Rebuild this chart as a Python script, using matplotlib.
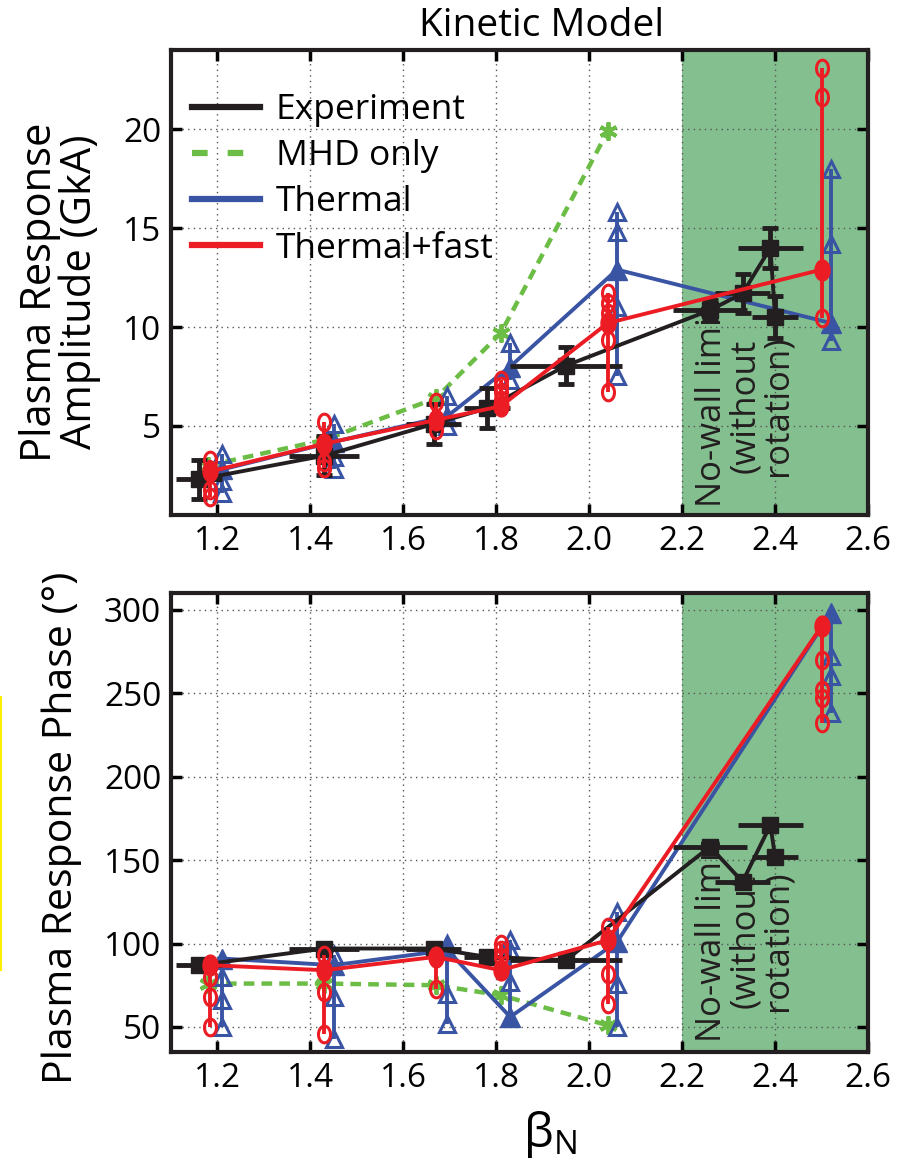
import matplotlib
matplotlib.use("Agg")
import matplotlib.pyplot as plt
import numpy as np
from matplotlib.path import Path
from matplotlib.lines import Line2D

plt.rcParams['font.family'] = ['Open Sans', 'DejaVu Sans']

# ---------------- data ----------------
beta_exp = [1.16, 1.43, 1.665, 1.78, 1.95, 2.26, 2.33, 2.39, 2.40]
amp_exp = [2.3, 3.5, 5.1, 5.9, 8.05, 10.85, 11.7, 14.0, 10.5]
amp_exp_yerr = [1.0, 1.0, 1.0, 1.0, 0.95, 0.5, 1.0, 1.0, 1.05]
phase_exp = [87, 97, 97, 92, 90, 158, 137, 171, 152]
phase_exp_yerr = [2, 2, 2, 2, 2, 2, 2, 2, 2]
exp_xerr = [0.05, 0.075, 0.06, 0.05, 0.12, 0.08, 0.06, 0.07, 0.05]

beta_mhd = [1.18, 1.43, 1.67, 1.81, 2.04]
amp_mhd = [3.0, 4.3, 6.4, 9.7, 19.9]
phase_mhd = [76, 76, 75, 69, 51]

beta_th = [1.21, 1.45, 1.695, 1.83, 2.06, 2.52]
amp_th = [2.8, 4.2, 5.5, 8.0, 12.9, 10.2]
amp_th_range = [[3.6, 2.2, 1.6], [5.1, 3.45, 2.8], [6.5, 5.0], [9.2, 7.3],
                [15.8, 14.8, 11.0, 7.5], [18.0, 14.2, 9.3]]
phase_th = [91, 87, 96, 56, 101, 298]
phase_th_range = [[80, 66, 50], [93, 68, 43], [100, 70, 52], [102, 96, 77],
                  [119, 76, 50], [272, 260, 238]]

beta_tf = [1.185, 1.43, 1.67, 1.81, 2.04, 2.50]
amp_tf = [2.7, 4.1, 5.3, 6.0, 10.2, 12.9]
amp_tf_range = [[3.3, 1.75, 1.4], [5.2, 3.2, 2.9], [6.2, 4.8], [7.3, 7.0, 6.7, 6.3],
                [11.7, 11.2, 10.7, 9.35, 6.7], [23.1, 21.6, 10.45]]
phase_tf = [87, 84, 92, 84, 102, 290]
phase_tf_range = [[80, 68, 50], [93, 71, 46], [73], [100, 96, 92],
                  [110, 82, 64], [270, 252, 247, 232]]

labels = ['Experiment', 'MHD only', 'Thermal', 'Thermal+fast']
xticks = [1.2, 1.4, 1.6, 1.8, 2.0, 2.2, 2.4, 2.6]
amp_yticks = [5, 10, 15, 20]
phase_yticks = [50, 100, 150, 200, 250, 300]

# ---------------- style ----------------
c_exp = '#231f20'
c_mhd = '#6cbd45'
c_th = '#3a54a4'
c_tf = '#ec1c24'
c_zone = '#84c08f'

t = np.linspace(0, 2 * np.pi, 40)
ellipse = Path(np.column_stack([0.72 * np.cos(t), np.sin(t)]), closed=True)

fig = plt.figure(figsize=(9, 11.66), dpi=100)
ax1 = fig.add_axes([171 / 900, 1 - 515 / 1166, 697 / 900, 465 / 1166])
ax2 = fig.add_axes([171 / 900, 1 - 1052 / 1166, 697 / 900, 459 / 1166])


def draw(ax, yexp, yexp_err, ymhd, yth, yth_r, ytf, ytf_r, yticks, ylim, txt_y):
    ax.axvspan(2.2, 2.6, color=c_zone, zorder=0, lw=0)
    ax.grid(True, linestyle=(0, (1, 3)), color='#555555', lw=1.0, zorder=1)
    ax.text(2.335, txt_y, 'No-wall limit\n(without\nrotation)', rotation=90,
            ha='center', va='bottom', fontsize=25, color='#231f20',
            linespacing=0.95, zorder=2)
    # experiment
    ax.errorbar(beta_exp, yexp, xerr=exp_xerr, color=c_exp, lw=2.8,
                elinewidth=3.5, capsize=0, marker='s', ms=12, zorder=5)
    ax.errorbar(beta_exp, yexp, yerr=yexp_err, color=c_exp, ls='none',
                elinewidth=3.5, capsize=6, capthick=3.5, zorder=5)
    # MHD
    ax.plot(beta_mhd, ymhd, color=c_mhd, ls=(0, (2.4, 1.6)), lw=3.2,
            marker=(6, 2, 0), ms=13, mew=2.8, zorder=4)
    # thermal
    for b, v, r in zip(beta_th, yth, yth_r):
        lo, hi = min(r + [v]), max(r + [v])
        ax.vlines(b, lo, hi, color=c_th, lw=2.8, zorder=4)
        ax.plot([b] * len(r), r, ls='none', marker='^', ms=11, mfc='none',
                mec=c_th, mew=2.2, zorder=4)
    ax.plot(beta_th, yth, color=c_th, lw=2.8, marker='^', ms=14, zorder=4)
    # thermal + fast
    for b, v, r in zip(beta_tf, ytf, ytf_r):
        lo, hi = min(r + [v]), max(r + [v])
        ax.vlines(b, lo, hi, color=c_tf, lw=2.8, zorder=6)
        ax.plot([b] * len(r), r, ls='none', marker=ellipse, ms=12, mfc='none',
                mec=c_tf, mew=2.2, zorder=6)
    ax.plot(beta_tf, ytf, color=c_tf, lw=2.8, marker=ellipse, ms=15, zorder=6)

    ax.set_xlim(1.1, 2.6)
    ax.set_ylim(*ylim)
    ax.set_xticks(xticks)
    ax.set_xticklabels([f'{x:.1f}' for x in xticks])
    ax.set_yticks(yticks)
    ax.tick_params(direction='in', length=8, width=2.5, top=True, right=True,
                   labelsize=24, pad=7)
    for s in ax.spines.values():
        s.set_linewidth(3)
        s.set_color('#231f20')
        s.set_zorder(10)


draw(ax1, amp_exp, amp_exp_yerr, amp_mhd, amp_th, amp_th_range, amp_tf,
     amp_tf_range, amp_yticks, (0.5, 24), 0.9)
draw(ax2, phase_exp, phase_exp_yerr, phase_mhd, phase_th, phase_th_range,
     phase_tf, phase_tf_range, phase_yticks, (35, 310), 41)

handles = [Line2D([], [], color=c_exp, lw=4.5),
           Line2D([], [], color=c_mhd, lw=4.5, ls=(0, (2.5, 3.2))),
           Line2D([], [], color=c_th, lw=4.5),
           Line2D([], [], color=c_tf, lw=4.5)]
ax1.legend(handles, labels, loc='upper left', bbox_to_anchor=(-0.005, 0.96),
           frameon=False, fontsize=25.5, handlelength=1.9, labelspacing=0.34,
           handletextpad=0.45, borderaxespad=0.3)

fig.text(542 / 900, 1 - 26 / 1166, 'Kinetic Model', ha='center', va='center',
         fontsize=28)
fig.text(60 / 900, 1 - 292 / 1166, 'Plasma Response\nAmplitude (GkA)',
         rotation=90, ha='center', va='center', fontsize=30, linespacing=0.92)
fig.text(62 / 900, 1 - 828 / 1166, 'Plasma Response Phase (°)', rotation=90,
         ha='center', va='center', fontsize=29.5)
fig.text(550 / 900, 1 - 1135 / 1166, r'$\mathregular{β_N}$', ha='center',
         va='center', fontsize=34)
fig.add_artist(Line2D([0.0015, 0.0015], [1 - 697 / 1166, 1 - 970 / 1166],
                      color='#ffee00', lw=1.5))

fig.savefig('out.png', dpi=100)
